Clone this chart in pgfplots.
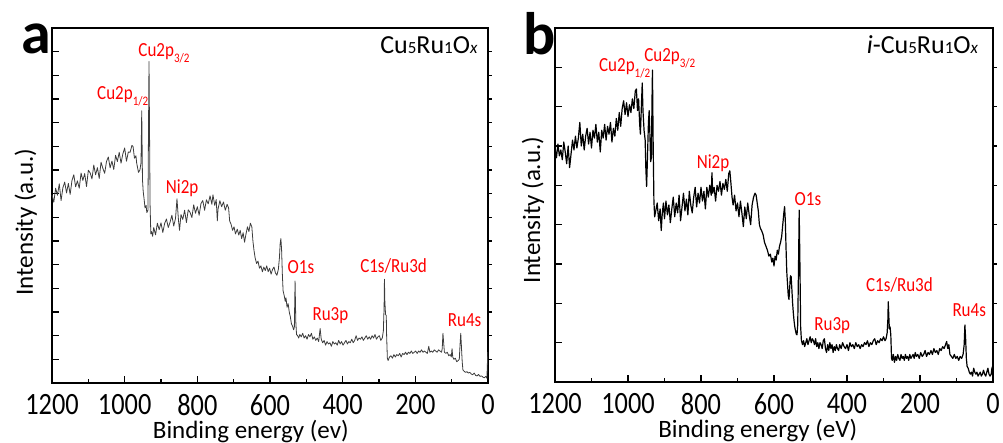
\documentclass[border=0pt]{standalone}
\usepackage{pgfplots}
\pgfplotsset{compat=1.18}
\usepackage{fontspec}
\setmainfont{Carlito}
\newfontfamily\cond[FakeStretch=0.85]{Carlito}
\definecolor{annred}{RGB}{255,0,0}
\definecolor{linegray}{RGB}{60,60,60}
\newcommand{\sub}[1]{\raisebox{-6pt}{\fontsize{13}{13}\selectfont #1}}
\newcommand{\smp}{Cu{\fontsize{17}{17}\selectfont 5}Ru{\fontsize{17}{17}\selectfont 1}O{\fontsize{17}{17}\selectfont\itshape x}}
\tikzset{ann/.style={anchor=base west, inner sep=0pt, text=annred, font=\cond\fontsize{20}{20}\selectfont}}
\pgfplotsset{
  xpsstyle/.style={
    scale only axis,
    x dir=reverse,
    xmin=0, xmax=1200,
    xtick={0,200,...,1200},
    minor xtick={100,300,...,1100},
    xtick pos=bottom,
    ytick pos=left,
    tick align=inside,
    yticklabels={},
    major tick length=7pt,
    minor tick length=4pt,
    axis line style={line width=1.2pt},
    tick style={black, line width=1.1pt},
    /pgf/number format/assume math mode=true,
    /pgf/number format/1000 sep={},
    xticklabel style={font=\cond\fontsize{31}{31}\selectfont, inner sep=0pt, anchor=north, yshift=-11pt},
    label style={font=\fontsize{25}{25}\selectfont, inner sep=0pt},
    clip=false,
  },
  rightticks/.style={
    scale only axis, xmin=0, xmax=1200,
    axis x line=none, axis y line*=right,
    tick align=outside, yticklabels={},
    major tick length=3.5pt,
    tick style={black, line width=1.1pt},
    axis line style={line width=1.2pt},
  }
}
\begin{document}
\begin{tikzpicture}
\useasboundingbox (0,0) rectangle (1003pt,442pt);
% ---------------- panel a ----------------
\begin{axis}[rightticks, at={(52pt,59pt)}, anchor=south west, width=436pt, height=355pt,
  ymin=0, ymax=15, ytick={1,...,14}]
\end{axis}
\begin{axis}[xpsstyle, at={(52pt,59pt)}, anchor=south west, width=436pt, height=355pt,
  ymin=0, ymax=15, ytick={1,...,14},
  xlabel={Binding energy (ev)}, ylabel={Intensity (a.u.)},
  xlabel style={at={(axis description cs:0.456,-0.155)}, anchor=base},
  ylabel style={at={(axis description cs:-0.044,0.453)}, anchor=base}]
\addplot[linegray, line width=0.8pt, line join=round] coordinates {
(1200,7.95)(1195,7.64)(1190,8.23)(1185,7.93)(1180,8.42)(1175,7.71)(1170,8.25)(1165,8.49)(1160,8.03)(1155,8.43)
(1150,7.97)(1145,8.56)(1140,8.80)(1135,8.29)(1130,8.54)(1125,8.23)(1120,8.87)(1115,8.56)(1110,8.85)(1105,8.30)
(1100,8.99)(1095,8.88)(1090,8.62)(1085,9.21)(1080,8.80)(1075,9.10)(1070,8.64)(1065,9.33)(1060,9.07)(1055,8.86)
(1050,9.36)(1045,9.55)(1040,9.09)(1035,9.38)(1030,9.02)(1025,9.62)(1020,9.36)(1015,9.75)(1010,9.29)(1005,9.68)
(1000,9.93)(995,9.37)(990,9.76)(985,9.75)(980,10.04)(977,10.0)(973,9.5)(969,9.6)(967,9.3)(962,8.9)(958,9.0)
(955,9.3)(953,11.5)(951,8.6)(949,8.1)(946,7.7)(944,7.4)(941,7.5)(939,7.2)(936,7.3)(933,13.58)(930,7.5)(928,6.3)
(926,6.4)(923,6.2)
(920,6.57)(915,6.26)(910,6.75)(905,6.48)(900,6.77)(895,6.36)(890,6.74)(885,6.93)(880,6.57)(875,6.80)(870,7.09)
(865,6.63)(860,6.96)(856,7.78)(852,6.9)(849,6.45)(845,7.12)(840,6.91)(835,7.30)(830,6.78)(825,7.32)(820,7.21)
(815,6.99)(810,7.53)(805,7.17)(800,7.45)(795,7.09)(790,7.58)(785,7.71)(780,7.30)(775,7.74)(770,7.57)(765,7.91)
(760,7.55)(757,7.95)(752,7.5)(748,7.75)(745,6.85)(743,7.35)(738,7.7)(733,7.45)(728,7.65)(723,7.3)(718,7.55)(714,7.4)
(711,6.85)(707,6.7)(703,6.45)(699,6.6)(695,6.3)(690,6.5)(686,6.25)(682,6.45)(678,6.1)(674,6.35)(670,5.95)
(666,6.3)(662,6.6)(658,6.4)(654,6.75)(650,6.6)(647,6.0)(644,5.6)(641,5.3)(637,5.05)(633,5.15)(629,4.85)(625,4.95)
(621,4.7)(617,4.9)(613,4.75)(609,4.95)(605,4.7)(601,4.85)(597,4.6)(593,4.8)(589,4.9)(585,4.65)(581,4.55)(577,4.8)
(574,5.3)(572,5.9)(570,6.1)(568,5.6)(566,4.6)(564,3.9)(561,3.7)(558,3.45)(556,3.6)(553,3.2)(550,3.35)(547,3.0)
(544,2.8)(541,2.5)(538,2.4)(535,2.25)(533,2.35)(531,4.31)(529,2.6)(527,2.05)(524,2.0)(521,1.9)(518,2.05)(514,1.95)
(510,2.1)(506,1.9)(502,2.0)(498,1.85)(494,2.05)(490,1.95)(486,2.1)(482,1.85)(478,1.95)(474,1.8)(470,1.9)(466,1.75)
(462,2.3)(459,1.85)(455,1.7)(451,1.8)(447,1.6)(443,1.75)(439,1.65)(435,1.7)(431,1.55)(427,1.75)(423,1.65)(419,1.7)
(415,1.6)(411,1.8)(407,1.65)(403,1.75)(399,1.6)(395,1.7)(391,1.8)(387,1.65)(383,1.75)(379,1.7)(375,1.85)(371,1.7)
(367,1.8)(363,2.0)(359,1.8)(355,1.9)(351,1.85)(347,1.95)(343,1.8)(339,1.9)(335,2.0)(331,1.85)(327,1.95)(323,1.85)
(319,2.0)(315,1.9)(311,2.05)(307,1.85)(303,1.95)(299,2.0)(295,1.8)(291,1.9)(288,2.2)(286,3.2)(285,4.38)(284,3.5)
(282,2.9)(280,2.85)(279,2.0)(277,1.05)(275,0.95)(271,1.1)(267,1.15)(263,1.05)(259,1.2)(255,1.1)(251,1.2)(247,1.15)
(243,1.25)(239,1.1)(235,1.25)(231,1.2)(227,1.3)(223,1.2)(219,1.3)(215,1.25)(211,1.35)(207,1.25)(203,1.3)(199,1.35)
(195,1.25)(191,1.35)(187,1.3)(183,1.4)(179,1.3)(175,1.35)(171,1.3)(167,1.25)(163,1.55)(160,1.3)(156,1.35)(152,1.3)
(148,1.4)(144,1.35)(140,1.3)(136,1.4)(132,1.35)(128,1.3)(126,1.45)(124,2.1)(122,1.7)(120,1.3)(116,1.25)(112,1.3)
(108,1.15)(104,1.2)(101,1.1)(99,1.45)(97,1.1)(94,1.0)(90,1.05)(86,0.9)(82,0.95)(79,1.0)(77,1.6)(75,2.1)(73,1.5)
(71,0.9)(69,0.55)(66,0.5)(62,0.45)(58,0.48)(54,0.42)(50,0.45)(46,0.38)(42,0.35)(38,0.42)(34,0.32)(30,0.3)(26,0.36)
(22,0.28)(18,0.3)(14,0.25)(10,0.22)(6,0.28)(3,0.2)(1.5,0.9)(0.5,1.3)
};
\node[ann] at (axis cs:1076,11.96) {Cu2p\sub{1/2}};
\node[ann] at (axis cs:962.5,13.79) {Cu2p\sub{3/2}};
\node[ann] at (axis cs:887,8.01) {Ni2p};
\node[ann] at (axis cs:552,4.63) {O1s};
\node[ann] at (axis cs:483.5,2.63) {Ru3p};
\node[ann] at (axis cs:352,4.66) {C1s/Ru3d};
\node[ann] at (axis cs:111,2.38) {Ru4s};
\node[anchor=base west, inner sep=0pt, font=\fontsize{26}{26}\selectfont] at (axis cs:297,13.93) {\smp};
\node[anchor=base west, inner sep=0pt, font=\bfseries\fontsize{60}{60}\selectfont] at (axis description cs:-0.071,0.929) {a};
\end{axis}
% ---------------- panel b ----------------
\begin{axis}[rightticks, at={(555pt,60pt)}, anchor=south west, width=438pt, height=354pt,
  ymin=0, ymax=9, ytick={1,...,8}]
\end{axis}
\begin{axis}[xpsstyle, at={(555pt,60pt)}, anchor=south west, width=438pt, height=354pt,
  ymin=0, ymax=9, ytick={1,...,8},
  xlabel={Binding energy (eV)}, ylabel={Intensity (a.u.)},
  xlabel style={at={(axis description cs:0.463,-0.1575)}, anchor=base},
  ylabel style={at={(axis description cs:-0.034,0.486)}, anchor=base}]
\addplot[black, line width=1.2pt, line join=round] coordinates {
(1200,5.95)(1196,5.70)(1192,6.05)(1188,5.75)(1184,5.90)(1180,5.65)(1176,6.10)(1172,5.85)(1168,5.55)(1164,6.00)
(1160,5.45)(1156,5.80)(1152,6.15)(1148,5.90)(1144,6.25)(1140,5.95)(1136,6.20)(1132,6.60)(1128,6.00)(1124,6.30)
(1120,5.90)(1116,6.25)(1112,6.45)(1108,6.05)(1104,6.35)(1100,5.95)(1096,6.40)(1092,6.20)(1088,6.55)(1084,6.10)
(1080,6.35)(1076,5.85)(1072,6.40)(1068,6.20)(1064,6.55)(1060,6.15)(1056,6.50)(1052,6.30)(1048,6.60)(1044,6.10)
(1040,6.45)(1036,6.25)(1032,6.70)(1028,6.40)(1024,6.85)(1020,6.50)(1016,6.95)(1012,7.15)(1008,6.80)(1004,7.10)
(1000,6.75)(996,7.05)(992,6.85)(988,7.20)(984,6.95)(980,7.40)(977,7.45)(974,6.90)(971,7.20)(968,6.55)(966,6.30)
(963,7.10)(961,7.60)(959,6.90)(956,6.40)(953,6.15)(951,5.40)(949,4.97)(947,5.60)(944,6.60)(942,6.90)(940,6.30)
(938,5.60)(936,5.70)(934,7.30)(933,7.93)(931,6.00)(929,4.60)(927,4.20)(924,4.35)
(920,4.55)(916,4.10)(912,4.40)(909,3.85)(906,4.30)(903,4.55)(900,4.15)(896,4.60)(892,4.25)(888,4.50)(884,4.05)
(880,4.40)(876,4.70)(872,4.20)(868,4.55)(864,4.30)(860,4.75)(856,4.10)(852,4.45)(848,4.80)(844,4.35)(840,4.65)
(836,4.25)(832,4.85)(828,4.50)(824,4.30)(820,4.70)(816,4.95)(812,4.45)(808,4.80)(804,4.55)(800,4.95)(796,4.60)
(792,4.85)(788,4.40)(784,4.95)(780,4.70)(776,5.00)(772,4.75)(770,5.32)(768,4.80)(764,4.95)(760,4.60)(756,5.00)
(752,4.85)(748,5.10)(744,4.75)(740,5.05)(736,4.90)(732,5.15)(728,4.85)(724,5.30)(721,5.37)(718,5.05)(715,4.70)
(712,4.50)(708,4.75)(704,4.35)(700,4.55)(696,4.20)(692,4.60)(688,4.30)(684,3.95)(680,4.45)(676,4.15)(672,4.55)
(668,4.25)(664,4.00)(660,4.50)(656,4.70)(652,4.80)(649,4.75)(646,4.55)(643,4.35)(640,4.00)(637,3.90)(634,3.85)
(630,3.75)(626,3.55)(622,3.45)(618,3.35)(614,3.20)(610,3.25)(606,3.05)(603,3.15)(600,2.95)(597,3.20)(594,3.10)
(591,3.35)(588,3.25)(585,3.45)(582,3.55)(579,3.70)(576,4.00)(573,4.30)(571,4.46)(569,4.10)(567,3.40)(565,2.80)
(563,2.50)(561,2.20)(559,2.10)(557,2.40)(555,2.70)(553,2.68)(551,2.35)(549,2.00)(547,1.75)(545,1.55)(543,1.40)
(541,1.30)(539,1.22)(537,1.20)(535,1.45)(533,2.80)(531,4.37)(529,3.00)(527,1.40)(525,1.07)(522,0.95)(519,1.05)
(516,0.90)(513,1.00)(510,1.10)(507,0.95)(504,1.05)(501,1.15)(498,1.00)(495,1.10)(492,1.05)(489,0.95)(486,1.10)
(483,0.90)(480,1.00)(477,0.85)(474,1.00)(471,0.95)(468,0.85)(465,1.05)(462,1.10)(459,0.85)(456,0.75)(453,0.95)
(450,0.80)(447,1.00)(444,0.85)(441,0.95)(438,0.75)(435,0.90)(432,0.80)(429,0.95)(426,0.85)(423,0.80)(420,0.95)
(416,0.85)(412,1.00)(408,0.90)(404,0.85)(400,0.95)(396,0.80)(392,1.00)(388,0.90)(384,0.95)(380,0.85)(376,1.00)
(372,0.90)(368,0.95)(364,0.85)(360,0.95)(356,0.90)(352,1.00)(348,0.95)(344,1.05)(340,0.90)(336,1.00)(332,0.95)
(328,1.05)(324,1.10)(320,0.95)(316,1.05)(312,1.00)(308,1.10)(304,1.05)(300,1.15)(296,1.05)(293,1.10)(290,1.25)
(288,1.60)(287,2.04)(286,1.80)(284,1.35)(282,1.40)(280,1.20)(278,0.60)(276,0.55)(273,0.70)(270,0.50)(267,0.65)
(264,0.55)(261,0.70)(258,0.60)(255,0.55)(252,0.70)(249,0.60)(246,0.65)(243,0.55)(240,0.70)(237,0.60)(234,0.65)
(231,0.55)(228,0.70)(225,0.60)(222,0.65)(219,0.70)(216,0.60)(213,0.75)(210,0.65)(206,0.70)(202,0.60)(198,0.75)
(194,0.65)(190,0.70)(186,0.80)(182,0.65)(178,0.75)(174,0.70)(170,0.80)(166,0.70)(162,0.85)(158,0.75)(154,0.80)
(150,0.70)(146,0.85)(142,0.80)(138,0.90)(134,0.85)(130,0.95)(127,1.03)(124,0.85)(121,0.95)(118,0.70)(114,0.65)
(110,0.60)(106,0.70)(102,0.60)(98,0.65)(94,0.55)(90,0.65)(86,0.60)(82,0.70)(79,0.95)(77,1.45)(75,1.10)(73,0.60)
(71,0.40)(68,0.35)(65,0.25)(62,0.20)(59,0.25)(56,0.15)(53,0.35)(50,0.25)(47,0.20)(44,0.25)(41,0.15)(38,0.20)
(35,0.25)(32,0.15)(29,0.20)(26,0.30)(23,0.20)(20,0.15)(17,0.25)(14,0.35)(11,0.20)(8,0.15)(5,0.20)(3,0.35)(1,0.40)
};
\node[ann] at (axis cs:1079.5,7.89) {Cu2p\sub{1/2}};
\node[ann] at (axis cs:956,8.14) {Cu2p\sub{3/2}};
\node[ann] at (axis cs:812,5.43) {Ni2p};
\node[ann] at (axis cs:544,4.50) {O1s};
\node[ann] at (axis cs:490,1.30) {Ru3p};
\node[ann] at (axis cs:348,2.30) {C1s/Ru3d};
\node[ann] at (axis cs:111.5,1.66) {Ru4s};
\node[anchor=base west, inner sep=0pt, font=\fontsize{26}{26}\selectfont] at (axis cs:346,8.36) {\textit{i}-\smp};
\node[anchor=base west, inner sep=0pt, font=\bfseries\fontsize{60}{60}\selectfont] at (axis description cs:-0.073,0.924) {b};
\end{axis}
\end{tikzpicture}
\end{document}
